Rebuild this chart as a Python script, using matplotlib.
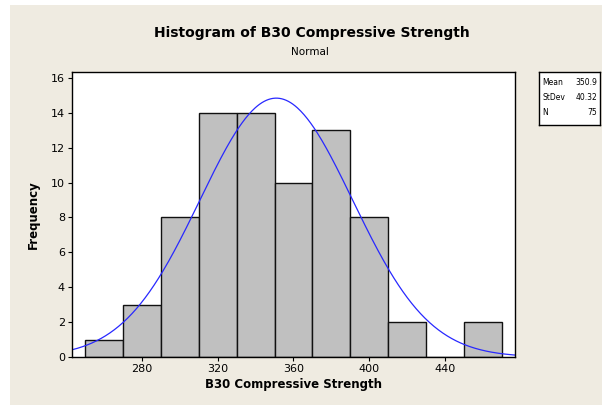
import numpy as np
import matplotlib
matplotlib.use("Agg")
import matplotlib.pyplot as plt
from matplotlib.patches import Rectangle

# Data
bin_edges = [250, 270, 290, 310, 330, 350, 370, 390, 410, 430, 450, 470]
counts = [1, 3, 8, 14, 14, 10, 13, 8, 2, 0, 2]
mean = 350.9
stdev = 40.32
n = 75
xticks = [280, 320, 360, 400, 440]
yticks = [0, 2, 4, 6, 8, 10, 12, 14, 16]

bg = "#efebe1"
fig = plt.figure(figsize=(6.02, 4.05), dpi=100, facecolor=bg)
# white margin strips as in reference
fig.patches.append(Rectangle((0, 0), 1, 1, transform=fig.transFigure, facecolor="white", zorder=-10))
fig.patches.append(Rectangle((10/602, 0), 1, 1 - 5/405, transform=fig.transFigure, facecolor=bg, zorder=-9))

ax = fig.add_axes([72/602, 1 - 357/405, (515-72)/602, (357-72)/405])
ax.set_facecolor("white")

widths = np.diff(bin_edges)
ax.bar(bin_edges[:-1], counts, width=widths, align="edge", color="#c0c0c0",
       edgecolor="#111111", linewidth=1.0)

xs = np.linspace(243, 477, 400)
bw = bin_edges[1] - bin_edges[0]
ys = n * bw * np.exp(-0.5 * ((xs - mean) / stdev) ** 2) / (stdev * np.sqrt(2 * np.pi))
ax.plot(xs, ys, color="#2828ff", linewidth=0.9)

ax.set_xlim(243, 477)
ax.set_ylim(0, 16.34)
ax.set_xticks(xticks)
ax.set_yticks(yticks)
ax.tick_params(direction="out", length=3, width=0.8, labelsize=8, colors="black", pad=2)
for s in ax.spines.values():
    s.set_linewidth(1.0)

ax.set_xlabel("B30 Compressive Strength", fontsize=8.5, fontweight="bold", labelpad=3)
ax.set_ylabel("Frequency", fontsize=8.5, fontweight="bold", labelpad=8)

fig.text(312/602, 1 - 33/405, "Histogram of B30 Compressive Strength", ha="center", va="center",
         fontsize=10, fontweight="bold", family="DejaVu Sans")
fig.text(310/602, 1 - 52/405, "Normal", ha="center", va="center", fontsize=7.5)

# stats box
bx = fig.add_axes([539/602, 1 - 125/405, (600-539)/602, (125-72)/405])
bx.set_xticks([]); bx.set_yticks([])
bx.set_facecolor("white")
for s in bx.spines.values():
    s.set_linewidth(1.0)
labels = ["Mean", "StDev", "N"]
vals = [f"{mean:.1f}", f"{stdev:.2f}", f"{n}"]
for i, (l, v) in enumerate(zip(labels, vals)):
    y = 0.8 - i * 0.28
    bx.text(0.05, y, l, fontsize=5.5, va="center", ha="left", transform=bx.transAxes)
    bx.text(0.96, y, v, fontsize=5.5, va="center", ha="right", transform=bx.transAxes)

fig.savefig("out.png", dpi=100, facecolor=fig.get_facecolor())
